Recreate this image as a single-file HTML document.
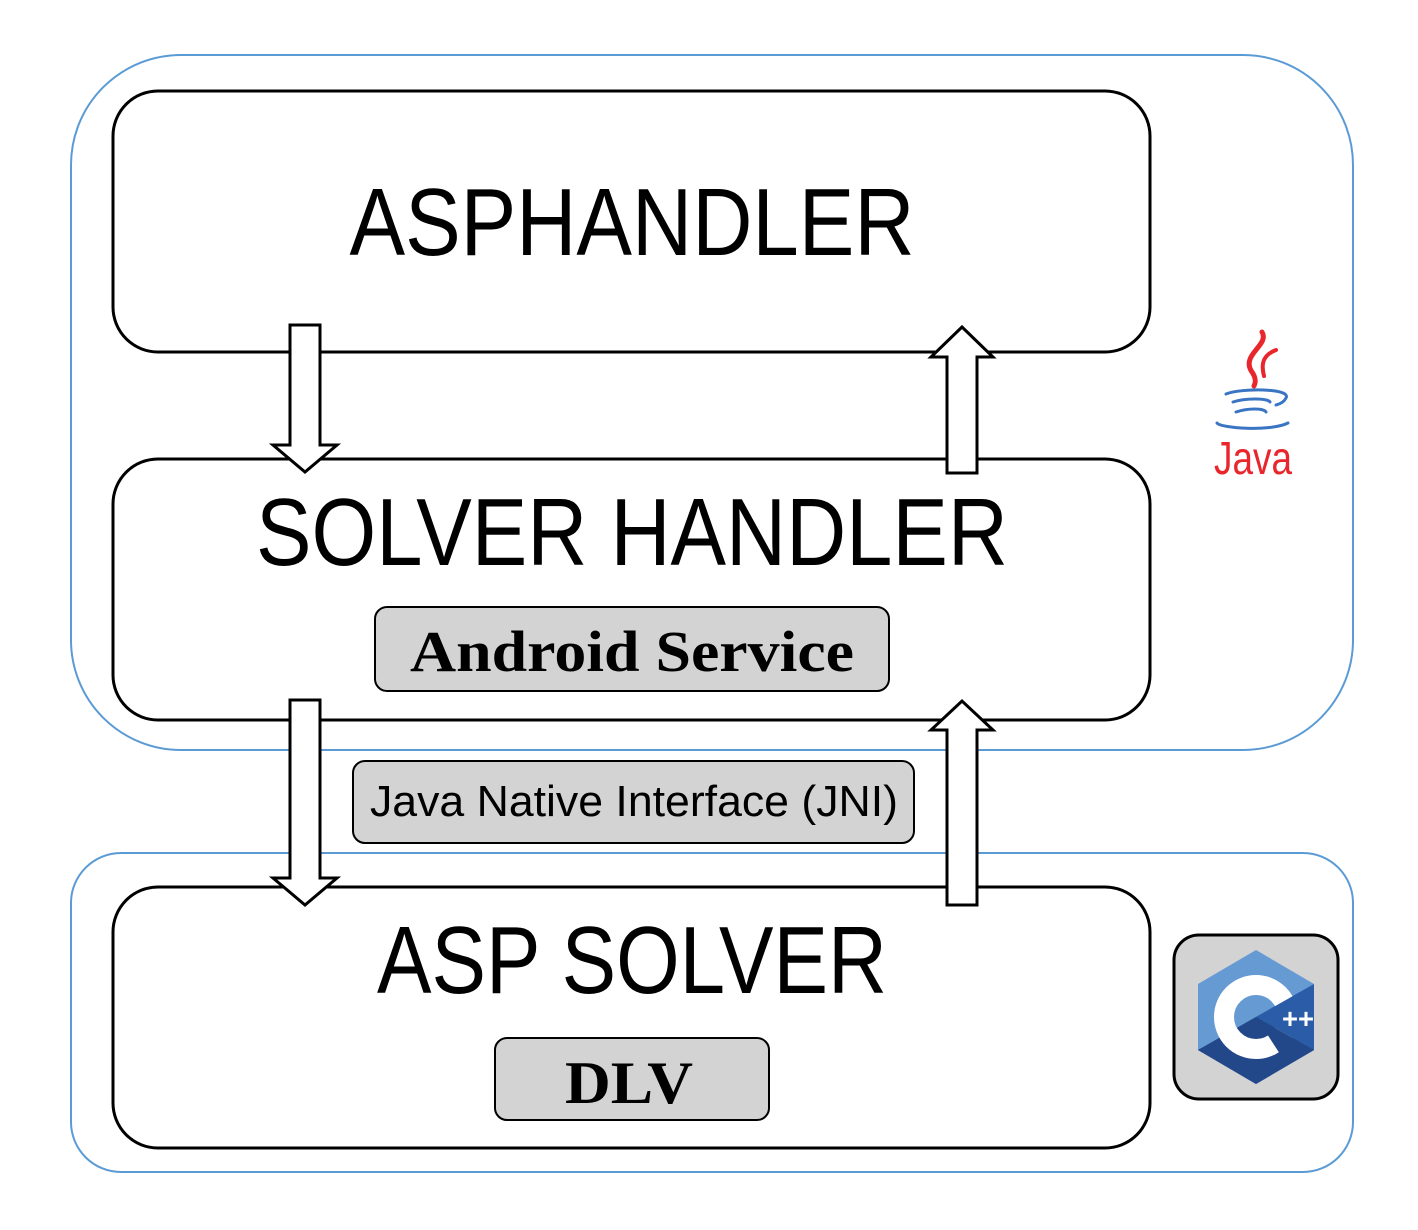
<!DOCTYPE html>
<html><head><style>body{margin:0;background:#fff}svg{display:block}</style></head><body>
<svg width="1418" height="1230" viewBox="0 0 1418 1230" xmlns="http://www.w3.org/2000/svg">
<rect x="71" y="55" width="1282" height="695" rx="110" fill="none" stroke="#5b9bd5" stroke-width="2"/>
<rect x="71" y="853" width="1282" height="319" rx="50" fill="none" stroke="#5b9bd5" stroke-width="2"/>
<g fill="#fff" stroke="#000" stroke-width="3">
<rect x="113" y="91" width="1037" height="261" rx="45"/>
<rect x="113" y="459" width="1037" height="261" rx="45"/>
<rect x="113" y="887" width="1037" height="261" rx="45"/>
</g>
<g font-family="Liberation Sans, DejaVu Sans, sans-serif" font-size="96" text-anchor="middle">
<text x="632" y="255" textLength="565" lengthAdjust="spacingAndGlyphs">ASPHANDLER</text>
<text x="632" y="565" textLength="752" lengthAdjust="spacingAndGlyphs">SOLVER HANDLER</text>
<text x="632" y="993" textLength="510" lengthAdjust="spacingAndGlyphs">ASP SOLVER</text>
</g>
<g fill="#d3d3d3" stroke="#000" stroke-width="2">
<rect x="375" y="607" width="514" height="84" rx="12"/>
<rect x="353" y="761" width="561" height="82" rx="12"/>
<rect x="495" y="1038" width="274" height="82" rx="12"/>
</g>
<text x="632" y="671" font-family="Liberation Serif, serif" font-weight="bold" font-size="58" text-anchor="middle" textLength="444" lengthAdjust="spacingAndGlyphs">Android Service</text>
<text x="634" y="816" font-family="Liberation Sans, DejaVu Sans, sans-serif" font-size="44" text-anchor="middle" textLength="528" lengthAdjust="spacingAndGlyphs">Java Native Interface (JNI)</text>
<text x="629" y="1103" font-family="Liberation Serif, serif" font-weight="bold" font-size="60" text-anchor="middle" textLength="128" lengthAdjust="spacingAndGlyphs">DLV</text>
<g fill="#fff" stroke="#000" stroke-width="3" stroke-linejoin="miter">
<polygon points="290,325 320,325 320,445 337,445 305,472 273,445 290,445"/>
<polygon points="947,473 977,473 977,357 993,357 962,327 931,357 947,357"/>
<polygon points="290,700 320,700 320,878 337,878 305,905 273,878 290,878"/>
<polygon points="947,905 977,905 977,730 993,730 962,701 931,730 947,730"/>
</g>
<g fill="none" stroke-linecap="round">
<path d="M1262,332 C1270,345 1240,355 1252,372 C1256,378 1256,382 1254,386" stroke="#e8262c" stroke-width="5"/>
<path d="M1276,350 C1260,356 1262,368 1264,376" stroke="#e8262c" stroke-width="4"/>
<path d="M1226,394 C1240,388 1292,388 1286,398 C1284,402 1280,404 1276,405" stroke="#3a75c4" stroke-width="3"/>
<path d="M1233,402 C1245,398 1268,398 1270,402" stroke="#3a75c4" stroke-width="3"/>
<path d="M1236,412 C1248,408 1264,408 1266,412" stroke="#3a75c4" stroke-width="3"/>
<path d="M1217,423 C1220,428 1270,432 1288,423" stroke="#3a75c4" stroke-width="3"/>
</g>
<text x="1214" y="474" font-family="Liberation Sans, sans-serif" font-size="46" fill="#e8262c" textLength="78" lengthAdjust="spacingAndGlyphs">Java</text>
<rect x="1174" y="935" width="164" height="164" rx="25" fill="#d3d3d3" stroke="#000" stroke-width="3"/>
<polygon points="1256,950 1314,984 1314,1050 1256,1084 1198,1050 1198,984" fill="#659ad2"/>
<polygon points="1314,984 1314,1050 1256,1084 1198,1050 1256,1017" fill="#2a5ca8"/>
<polygon points="1256,1017 1314,1050 1256,1084 1198,1050" fill="#23488a"/>
<circle cx="1256" cy="1017" r="32" fill="none" stroke="#fff" stroke-width="20"/>
<polygon points="1256,1017 1300,992 1300,1042" fill="#2a5ca8"/>
<polygon points="1256,1017 1300,1042 1280,1054" fill="#23488a"/>
<text x="1282" y="1028" font-family="Liberation Sans, sans-serif" font-weight="bold" font-size="28" fill="#fff" textLength="32" lengthAdjust="spacingAndGlyphs">++</text>
</svg>
</body></html>
